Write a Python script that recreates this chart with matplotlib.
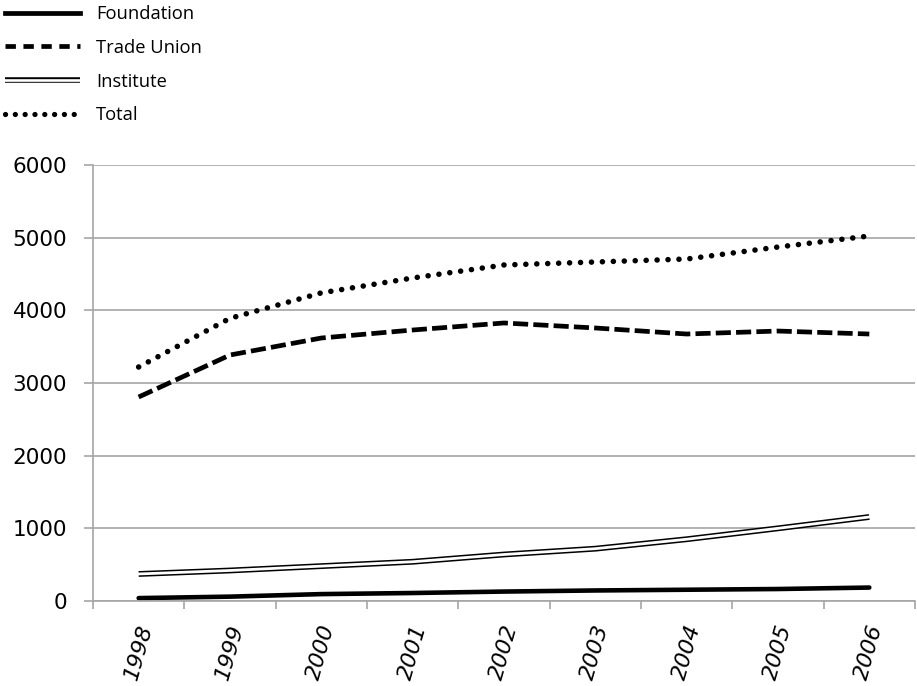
import numpy as np
import matplotlib.pyplot as plt
from matplotlib.lines import Line2D
from matplotlib.ticker import FixedLocator

plt.rcParams['font.family'] = ['Open Sans', 'DejaVu Sans']

years = ['1998', '1999', '2000', '2001', '2002', '2003', '2004', '2005', '2006']
foundation = [40, 60, 95, 110, 130, 145, 155, 165, 185]
trade_union = [2807, 3385, 3619, 3729, 3826, 3757, 3674, 3715, 3674]
institute = [372, 420, 480, 540, 640, 720, 850, 1000, 1156]
total = [3220, 3890, 4240, 4445, 4624, 4665, 4706, 4871, 5023]

x = np.arange(len(years))
grid_col = '#a6a6a6'

fig = plt.figure(figsize=(9.17, 6.86), dpi=100)
ax = fig.add_axes([0.1014, 0.1239, 0.8964, 0.6356])

ax.plot(x, foundation, '-', color='black', lw=3.3, solid_capstyle='round')
ax.plot(x, trade_union, color='black', lw=3.4, dashes=(3.2, 1.1))
# double line: black stroke with a white core
ax.plot(x, institute, '-', color='black', lw=4.2, solid_capstyle='butt')
ax.plot(x, institute, '-', color='white', lw=2.0, solid_capstyle='projecting')
ax.plot(x, total, color='black', lw=4.0, linestyle=(0, (0.01, 1.96)), dash_capstyle='round')

ax.set_xlim(-0.5, len(years) - 0.5)
ax.set_ylim(0, 6000)
ax.set_yticks(np.arange(0, 6001, 1000))
ax.yaxis.grid(True, color=grid_col, lw=1.2)
ax.set_axisbelow(True)

# category labels in the middle, tick marks on the boundaries
ax.set_xticks(x)
ax.set_xticklabels(years, rotation=74, ha='center', va='top', fontsize=16,
                   style='italic', family='DejaVu Sans')
ax.xaxis.set_minor_locator(FixedLocator(np.arange(-0.5, len(years), 1.0)))
ax.tick_params(axis='x', which='major', length=0, pad=15)
ax.tick_params(axis='x', which='minor', length=6, width=1.2, color=grid_col, direction='out')
ax.tick_params(axis='y', length=6.5, width=1.2, color=grid_col, labelsize=15.5, pad=12)
for lab in ax.get_yticklabels():
    lab.set_family('DejaVu Sans')

for s in ['top', 'right']:
    ax.spines[s].set_visible(False)
for s in ['left', 'bottom']:
    ax.spines[s].set_color(grid_col)
    ax.spines[s].set_linewidth(1.2)

h1 = Line2D([], [], color='black', lw=3.4)
h2 = Line2D([], [], color='black', lw=3.4, dashes=(2.2, 1.6))
h3a = Line2D([], [], color='black', lw=4.0, solid_capstyle='butt')
h3b = Line2D([], [], color='white', lw=1.9, solid_capstyle='projecting')
h4 = Line2D([], [], color='black', lw=3.8, linestyle=(0, (0.01, 1.85)), dash_capstyle='round')
fig.legend([h1, h2, (h3a, h3b), h4], ['Foundation', 'Trade Union', 'Institute', 'Total'],
           loc='upper left', bbox_to_anchor=(5 / 917, 1 - 5 / 686), frameon=False, fontsize=13.2,
           handlelength=4.1, handletextpad=0.87, labelspacing=0.86,
           borderpad=0, borderaxespad=0)

fig.savefig('out.png', dpi=100)
